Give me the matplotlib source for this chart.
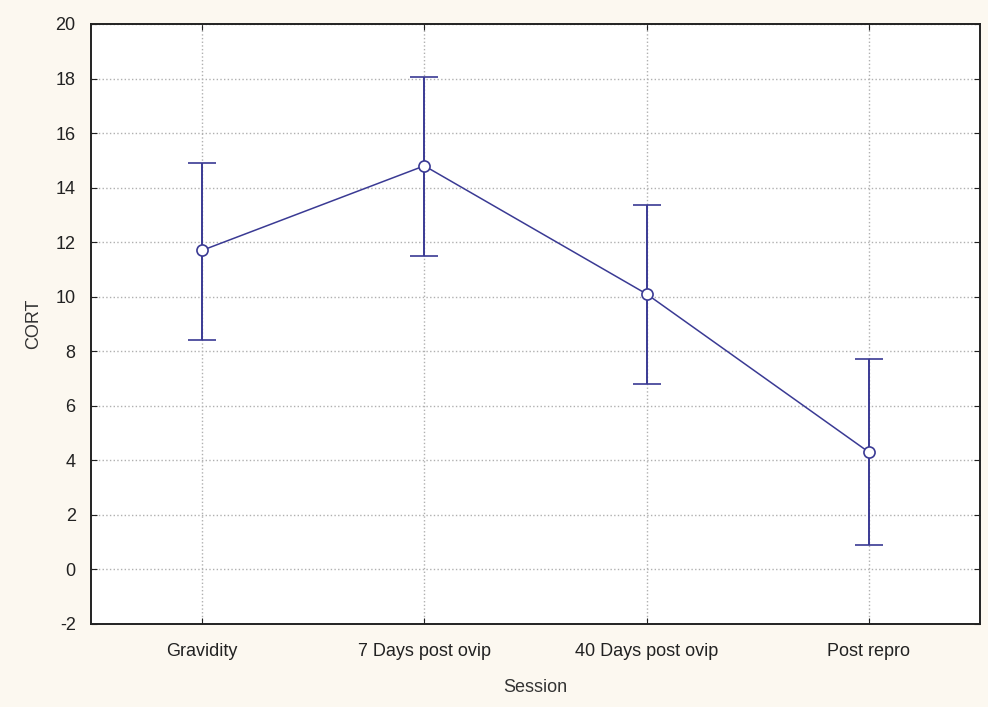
import matplotlib
matplotlib.use('Agg')
from matplotlib import pyplot as plt
import numpy as np

sessions = ['Gravidity', '7 Days post ovip', '40 Days post ovip', 'Post repro']
cort_mean = [11.7, 14.8, 10.1, 4.3]
cort_low = [8.4, 11.5, 6.8, 0.9]
cort_high = [14.9, 18.05, 13.35, 7.7]

plt.rcParams['font.family'] = ['Liberation Sans', 'DejaVu Sans']
plt.rcParams['axes.unicode_minus'] = False

fig = plt.figure(figsize=(9.88, 7.07), dpi=100, facecolor='#fcf8f0')
ax = fig.add_axes([91/988, 1-624/707, (980-91)/988, (624-24)/707])
ax.set_facecolor('white')

x = np.arange(len(sessions))
mean = np.array(cort_mean)
yerr = [mean - np.array(cort_low), np.array(cort_high) - mean]
col = '#3a3a94'
ax.errorbar(x, mean, yerr=yerr, color=col, lw=1.1, elinewidth=1.4, capsize=10, capthick=1.6,
            marker='o', ms=8, mfc='white', mec=col, mew=1.2, zorder=3)

ax.set_xlim(-0.5, 3.5)
ax.set_ylim(-2, 20)
ax.set_yticks(np.arange(-2, 21, 2))
ax.set_xticks(x)
ax.set_xticklabels(sessions)
ax.grid(True, color='#b0b0b0', ls=':', lw=1)
ax.set_axisbelow(True)
ax.tick_params(direction='in', length=4, top=True, right=True, labelsize=13, colors='#222222')
ax.tick_params(axis='x', pad=14)
ax.tick_params(axis='y', pad=11)
for s in ax.spines.values():
    s.set_linewidth(1.4)
    s.set_color('#222222')

ax.set_xlabel('Session', fontsize=13, color='#333333', labelpad=13)
ax.set_ylabel('CORT', fontsize=13, color='#333333', labelpad=10)

plt.savefig('out.png', dpi=100, facecolor=fig.get_facecolor())
